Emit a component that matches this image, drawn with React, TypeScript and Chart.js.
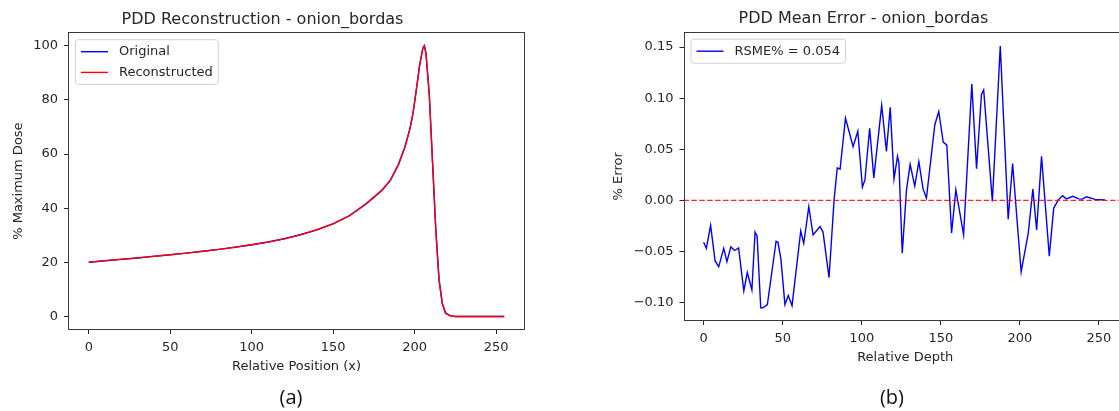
import React, { useEffect, useRef } from "react";
import { Chart, registerables } from "chart.js";

Chart.register(...registerables);

const FONT = "'DejaVu Sans', sans-serif";
const INK = "#262626";

// Panel (a): depth-dose profile, original vs reconstructed
const POSITION_X = [
  0, 10, 20, 30, 40, 50, 60, 70, 80, 90, 100, 110, 120, 130, 140, 150, 160, 170, 175,
  180, 185, 190, 194, 197, 199, 201, 203, 205, 206, 207, 209, 211, 213, 215, 217, 219,
  222, 225, 255,
];
const ORIGINAL_DOSE = [
  20.0, 20.6, 21.1, 21.6, 22.2, 22.8, 23.4, 24.1, 24.8, 25.6, 26.5, 27.5, 28.7, 30.2,
  32.0, 34.2, 37.2, 41.5, 44.0, 46.6, 50.2, 56.0, 62.5, 69.0, 75.0, 83.5, 92.5, 99.0,
  100.0, 97.0, 82.0, 57.0, 32.0, 13.5, 4.8, 1.2, 0.2, 0.0, 0.0,
];
const RECONSTRUCTED_DOSE = [
  20.04, 20.64, 21.14, 21.63, 22.24, 22.79, 23.38, 24.07, 24.8, 25.58, 26.47, 27.48,
  28.66, 30.21, 32.03, 34.27, 37.25, 41.56, 44.09, 46.66, 50.17, 56.07, 62.49, 69.03,
  74.96, 83.51, 92.48, 98.99, 100.0, 97.01, 81.99, 57.0, 32.01, 13.51, 4.8, 1.2, 0.2,
  0.0, 0.0,
];

// Panel (b): mean reconstruction error along depth
const ERROR_DEPTH = [
  0, 1.7, 4.4, 7.2, 9.5, 12.7, 14.7, 17.2, 19.6, 22.1, 25.4, 27.6, 30.5, 32.5, 33.8,
  36.1, 37.5, 40.3, 45.8, 47, 48.9, 51.4, 53.5, 55.9, 61.4, 63.3, 66.5, 69.2, 73.6,
  75.5, 79.3, 82.5, 84.5, 86.3, 89.7, 94.5, 97.5, 100.4, 102, 105, 107.6, 112.6, 115.6,
  118, 120.4, 122.6, 123.5, 125.6, 128.3, 130.6, 133.5, 136.1, 138.8, 140.9, 146.2,
  148.7, 151.5, 153.8, 156.8, 159.5, 164.4, 169.6, 172.6, 175.7, 177.1, 182.6, 187.6,
  192.6, 195.4, 200.8, 205.3, 208.2, 210.6, 213.7, 218.6, 221.4, 224.3, 227, 229.3,
  233.5, 237.2, 239.4, 242.2, 247.5, 253.8,
];
const ERROR_PCT = [
  -0.041, -0.047, -0.0245, -0.059, -0.065, -0.047, -0.06, -0.0455, -0.049, -0.0465,
  -0.0886, -0.0706, -0.0876, -0.031, -0.035, -0.105, -0.105, -0.102, -0.04, -0.041,
  -0.058, -0.102, -0.093, -0.103, -0.03, -0.042, -0.0062, -0.0337, -0.0255, -0.031,
  -0.0755, 0.0007, 0.0317, 0.0307, 0.0805, 0.0525, 0.0676, 0.013, 0.02, 0.0705, 0.022,
  0.093, 0.048, 0.091, 0.021, 0.043, 0.0366, -0.0517, 0.0105, 0.0353, 0.014, 0.038,
  0.011, 0.0023, 0.074, 0.087, 0.057, 0.054, -0.032, 0.0105, -0.0337, 0.1137, 0.031,
  0.1036, 0.108, -0.001, 0.151, -0.0185, 0.036, -0.07, -0.032, 0.011, -0.029, 0.043,
  -0.0545, -0.0075, 0.0005, 0.0045, 0.0015, 0.004, 0.0015, 0.0012, 0.0035, 0.001,
  0.0003,
];

const X_TICKS = [0, 50, 100, 150, 200, 250];
const DOSE_TICKS = [0, 20, 40, 60, 80, 100];
const ERROR_TICKS = [-0.1, -0.05, 0, 0.05, 0.1, 0.15];
const X_LIMITS = [-12.75, 267.75];
const DOSE_LIMITS = [-5, 105];
const ERROR_LIMITS = [-0.118, 0.165];
const ZERO_LEVEL = 0;
const RMSE_LABEL = "RSME% = 0.054";

type LegendItem = { label: string; color: string };

// Draws the axes box, an optional dashed reference line and an in-plot legend.
const axesDecor = {
  id: "axesDecor",
  afterDatasetsDraw(chart: any, _args: any, opts: any) {
    const { ctx, chartArea: a } = chart;
    ctx.save();

    if (opts.refLine !== undefined) {
      const y = chart.scales.y.getPixelForValue(opts.refLine);
      ctx.strokeStyle = "rgba(255,0,0,0.85)";
      ctx.lineWidth = 1.3;
      ctx.setLineDash([5.5, 2.4]);
      ctx.beginPath();
      ctx.moveTo(a.left, y);
      ctx.lineTo(a.right, y);
      ctx.stroke();
      ctx.setLineDash([]);
    }

    ctx.strokeStyle = "#3a3a3a";
    ctx.lineWidth = 1;
    ctx.strokeRect(
      Math.round(a.left) + 0.5,
      Math.round(a.top) + 0.5,
      Math.round(a.right - a.left) - 1,
      Math.round(a.bottom - a.top) - 1
    );

    const items: LegendItem[] = opts.items || [];
    if (items.length) {
      ctx.font = `13px ${FONT}`;
      const pad = 5.5;
      const rowH = 13;
      const gap = 7.7;
      const handle = 27;
      const handleGap = 11;
      const textW = Math.max(...items.map((it) => ctx.measureText(it.label).width));
      const bx = a.left + 7.5;
      const by = a.top + 7.5;
      const bw = pad + handle + handleGap + textW + pad;
      const bh = 2 * pad + items.length * rowH + (items.length - 1) * gap;
      ctx.beginPath();
      ctx.roundRect(bx, by, bw, bh, 2.6);
      ctx.fillStyle = "rgba(255,255,255,0.8)";
      ctx.fill();
      ctx.strokeStyle = "#d0d0d0";
      ctx.lineWidth = 1;
      ctx.stroke();
      items.forEach((it, i) => {
        const cy = by + pad + rowH / 2 + i * (rowH + gap);
        ctx.strokeStyle = it.color;
        ctx.lineWidth = 1.4;
        ctx.beginPath();
        ctx.moveTo(bx + pad, cy);
        ctx.lineTo(bx + pad + handle, cy);
        ctx.stroke();
        ctx.fillStyle = INK;
        ctx.textBaseline = "middle";
        ctx.textAlign = "left";
        ctx.fillText(it.label, bx + pad + handle + handleGap, cy);
      });
    }
    ctx.restore();
  },
};

const minusSign = (s: string) => s.replace("-", "\u2212");

function buildOptions(cfg: {
  title: string;
  titleTop: number;
  xTitle: string;
  yTitle: string;
  yTicks: number[];
  yLimits: number[];
  yFormat: (v: number) => string;
  yWidth: number;
  yTitlePad: number;
  xTitlePad: number;
  padding: { left: number; right: number; top: number; bottom: number };
  decor: any;
}) {
  const tickFont = { family: FONT, size: 13 };
  return {
    responsive: false,
    animation: false,
    devicePixelRatio: 1,
    layout: { padding: cfg.padding },
    plugins: {
      legend: { display: false },
      tooltip: { enabled: false },
      title: {
        display: true,
        text: cfg.title,
        color: INK,
        font: { family: FONT, size: 16, weight: "normal", lineHeight: 1.2 },
        padding: { top: cfg.titleTop, bottom: 3 },
      },
      axesDecor: cfg.decor,
    },
    scales: {
      x: {
        type: "linear",
        min: X_LIMITS[0],
        max: X_LIMITS[1],
        afterBuildTicks: (s: any) => {
          s.ticks = X_TICKS.map((v) => ({ value: v }));
        },
        afterFit: (s: any) => {
          s.height = 60;
        },
        grid: { drawOnChartArea: false, drawTicks: true, tickLength: 4, color: INK },
        border: { display: false },
        ticks: {
          color: INK,
          font: tickFont,
          padding: 6,
          maxRotation: 0,
          autoSkip: false,
          callback: (v: number) => String(v),
        },
        title: {
          display: true,
          text: cfg.xTitle,
          color: INK,
          font: { family: FONT, size: 13, lineHeight: 1.2 },
          padding: { top: 0, bottom: cfg.xTitlePad },
        },
      },
      y: {
        type: "linear",
        min: cfg.yLimits[0],
        max: cfg.yLimits[1],
        afterBuildTicks: (s: any) => {
          s.ticks = cfg.yTicks.map((v) => ({ value: v }));
        },
        afterFit: (s: any) => {
          s.width = cfg.yWidth;
        },
        grid: { drawOnChartArea: false, drawTicks: true, tickLength: 4, color: INK },
        border: { display: false },
        ticks: {
          color: INK,
          font: tickFont,
          padding: 6,
          autoSkip: false,
          callback: (v: number) => cfg.yFormat(v),
        },
        title: {
          display: true,
          text: cfg.yTitle,
          color: INK,
          font: { family: FONT, size: 13, lineHeight: 1.2 },
          padding: { top: cfg.yTitlePad, bottom: 0 },
        },
      },
    },
  };
}

function DoseChart() {
  const ref = useRef<HTMLCanvasElement>(null);
  useEffect(() => {
    const chart = new Chart(ref.current as HTMLCanvasElement, {
      type: "line",
      data: {
        datasets: [
          {
            label: "Original",
            data: POSITION_X.map((x, i) => ({ x, y: ORIGINAL_DOSE[i] })),
            borderColor: "#0000ff",
            borderWidth: 1.4,
            pointRadius: 0,
            tension: 0,
            order: 1,
          },
          {
            label: "Reconstructed",
            data: POSITION_X.map((x, i) => ({ x, y: RECONSTRUCTED_DOSE[i] })),
            borderColor: "#ff0000",
            borderWidth: 1.4,
            pointRadius: 0,
            tension: 0,
            order: 0,
          },
        ],
      },
      options: buildOptions({
        title: "PDD Reconstruction - onion_bordas",
        titleTop: 10,
        xTitle: "Relative Position (x)",
        yTitle: "% Maximum Dose",
        yTicks: DOSE_TICKS,
        yLimits: DOSE_LIMITS,
        yFormat: (v) => String(v),
        yWidth: 68,
        yTitlePad: 10.5,
        xTitlePad: 15.5,
        padding: { left: 0, right: 35, top: 0, bottom: 21 },
        decor: {
          items: [
            { label: "Original", color: "#0000ff" },
            { label: "Reconstructed", color: "#ff0000" },
          ],
        },
      }) as any,
      plugins: [axesDecor],
    });
    return () => chart.destroy();
  }, []);
  return (
    <canvas
      ref={ref}
      width={560}
      height={411}
      style={{ position: "absolute", left: 0, top: 0, width: 560, height: 411 }}
    />
  );
}

function ErrorChart() {
  const ref = useRef<HTMLCanvasElement>(null);
  useEffect(() => {
    const chart = new Chart(ref.current as HTMLCanvasElement, {
      type: "line",
      data: {
        datasets: [
          {
            label: RMSE_LABEL,
            data: ERROR_DEPTH.map((x, i) => ({ x, y: ERROR_PCT[i] })),
            borderColor: "#0000ff",
            borderWidth: 1.4,
            pointRadius: 0,
            tension: 0,
          },
        ],
      },
      options: buildOptions({
        title: "PDD Mean Error - onion_bordas",
        titleTop: 9.5,
        xTitle: "Relative Depth",
        yTitle: "% Error",
        yTicks: ERROR_TICKS,
        yLimits: ERROR_LIMITS,
        yFormat: (v) => minusSign(v.toFixed(2)),
        yWidth: 83.5,
        yTitlePad: 11.2,
        xTitlePad: 16,
        padding: { left: 0, right: 33, top: 0, bottom: 30 },
        decor: {
          refLine: ZERO_LEVEL,
          items: [{ label: RMSE_LABEL, color: "#0000ff" }],
        },
      }) as any,
      plugins: [axesDecor],
    });
    return () => chart.destroy();
  }, []);
  return (
    <canvas
      ref={ref}
      width={560}
      height={411}
      style={{ position: "absolute", left: 600, top: 0, width: 560, height: 411 }}
    />
  );
}

const captionStyle: React.CSSProperties = {
  position: "absolute",
  top: 383,
  width: 60,
  textAlign: "center",
  fontFamily: "'Open Sans', sans-serif",
  fontSize: 20,
  lineHeight: "28px",
  color: "#111",
};

export default function App() {
  return (
    <div
      style={{
        position: "fixed",
        left: 0,
        top: 0,
        width: 1119,
        height: 411,
        overflow: "hidden",
        background: "#ffffff",
      }}
    >
      <DoseChart />
      <ErrorChart />
      <div style={{ ...captionStyle, left: 291 - 30 }}>(a)</div>
      <div style={{ ...captionStyle, left: 892 - 30 }}>(b)</div>
    </div>
  );
}
